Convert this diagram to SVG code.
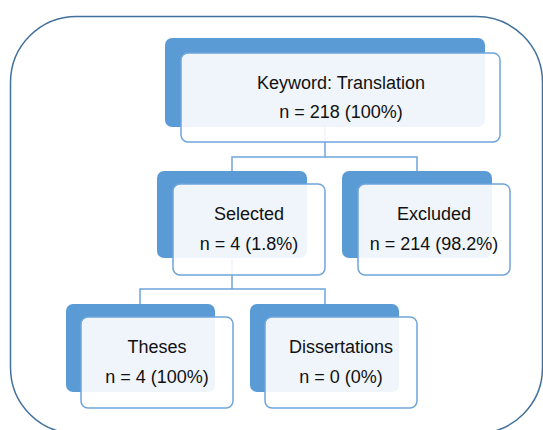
<svg xmlns="http://www.w3.org/2000/svg" width="543" height="430" viewBox="0 0 543 430">
<style>
.frame{fill:none;stroke:#41719C;stroke-width:1.5}
.back{fill:#5B9BD5}
.front{fill:#FFFFFF;fill-opacity:0.9;stroke:#6FA5DA;stroke-width:1.5}
.conn{fill:none;stroke:#6FA5DA;stroke-width:1.5}
text{font-family:"Liberation Sans",Arial,sans-serif;font-size:18px;fill:#111111;text-anchor:middle}
</style>
<rect class="frame" x="10.5" y="16.5" width="532" height="417" rx="66" ry="66"/>
<g id="connectors">
<path class="conn" d="M325,127 V157 M232,171 V157 H417 V171"/>
<path class="conn" d="M232,258 V289 M140,304 V289 H325 V304"/>
</g>
<g id="node-keyword">
<rect class="back" x="165" y="38" width="320" height="89" rx="7"/>
<rect class="front" x="181" y="53" width="319" height="89" rx="7"/>
<text x="341" y="89">Keyword: Translation</text>
<text x="341" y="118">n = 218 (100%)</text>
</g>
<g id="node-selected">
<rect class="back" x="157" y="171" width="150" height="87" rx="7"/>
<rect class="front" x="173" y="184" width="152" height="91" rx="7"/>
<text x="249" y="220">Selected</text>
<text x="249" y="250">n = 4 (1.8%)</text>
</g>
<g id="node-excluded">
<rect class="back" x="342" y="171" width="150" height="87" rx="7"/>
<rect class="front" x="358" y="184" width="152" height="91" rx="7"/>
<text x="434" y="220">Excluded</text>
<text x="434" y="250">n = 214 (98.2%)</text>
</g>
<g id="node-theses">
<rect class="back" x="66" y="304" width="149" height="88" rx="7"/>
<rect class="front" x="81" y="317" width="152" height="91" rx="7"/>
<text x="157" y="353">Theses</text>
<text x="157" y="383">n = 4 (100%)</text>
</g>
<g id="node-dissertations">
<rect class="back" x="250" y="304" width="149" height="88" rx="7"/>
<rect class="front" x="265" y="317" width="152" height="91" rx="7"/>
<text x="341" y="353">Dissertations</text>
<text x="341" y="383">n = 0 (0%)</text>
</g>
</svg>
